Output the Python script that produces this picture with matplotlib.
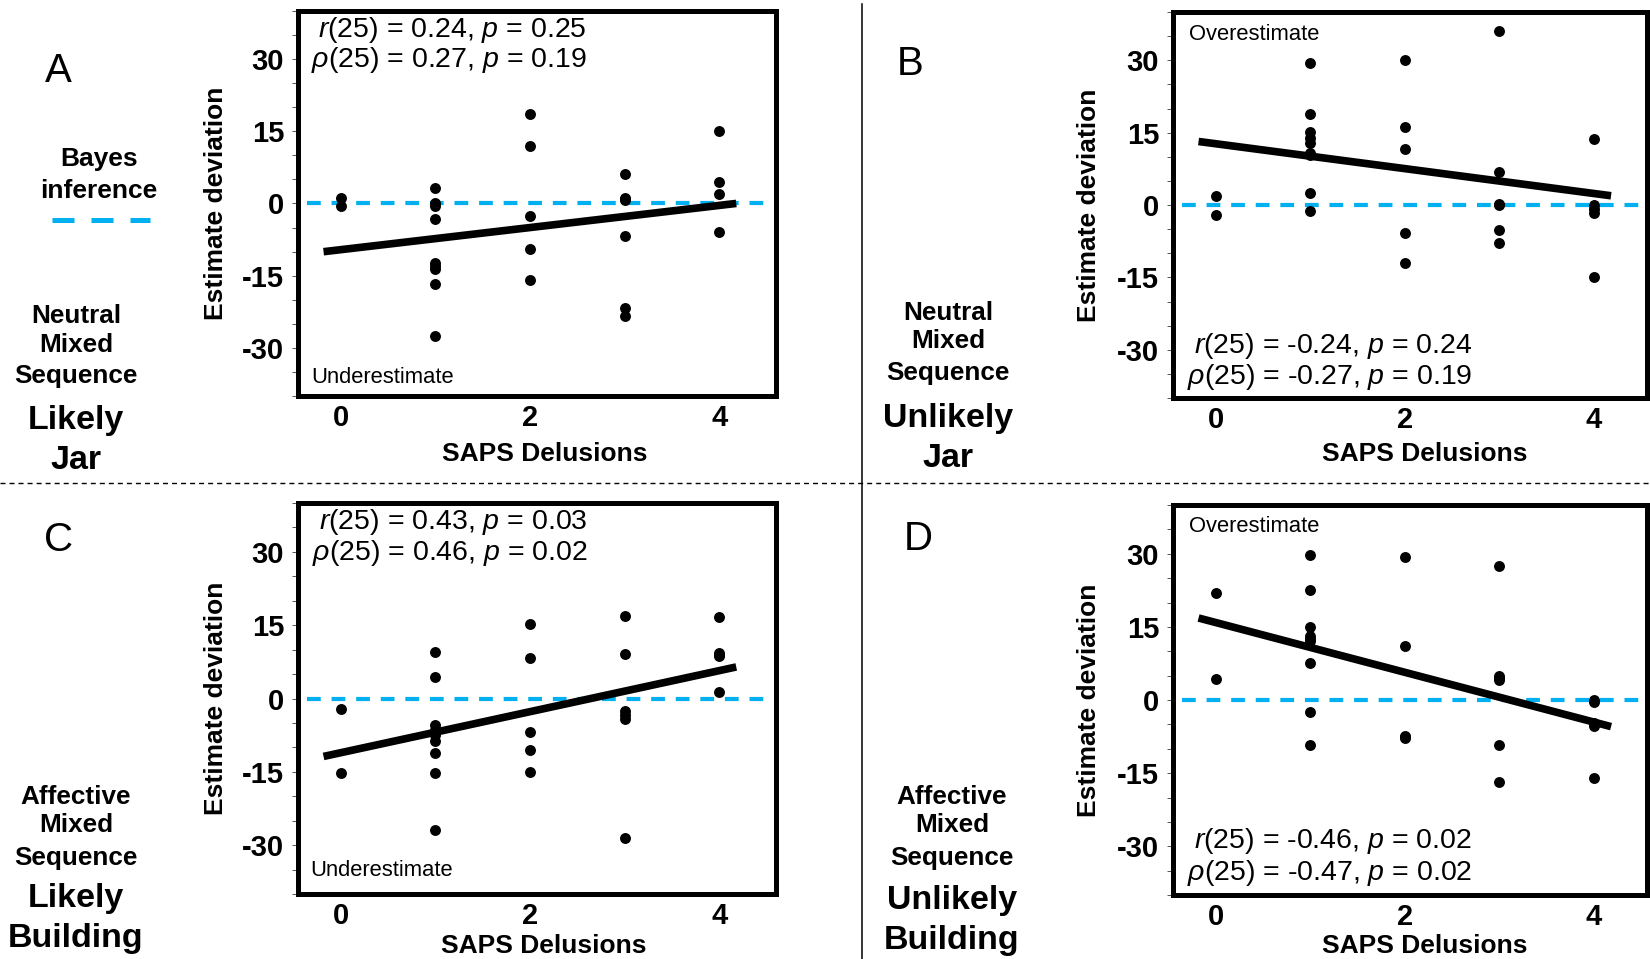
import matplotlib.pyplot as plt
from matplotlib.lines import Line2D

plt.rcParams['font.family'] = ['Liberation Sans', 'DejaVu Sans']
plt.rcParams['mathtext.fontset'] = 'custom'
plt.rcParams['mathtext.rm'] = 'Liberation Sans'
plt.rcParams['mathtext.it'] = 'Liberation Sans:italic'

W, H = 1650, 959
BLUE = '#00b0f0'

# SAPS delusion score (x) against estimate deviation (y), one list pair per panel
a_x = [0, 0, 1, 1, 1, 1, 1, 1, 1, 1, 1, 2, 2, 2, 2, 2, 3, 3, 3, 3, 3, 3, 3, 4, 4, 4, 4]
a_y = [1.1, -0.5, 3.2, 0, -0.6, -3.3, -12.3, -13, -13.6, -16.8, -27.5,
       18.5, 12, -2.6, -9.5, -16, 6.1, 1.2, 0.8, 1.0, -6.8, -21.7, -23.3,
       15.1, 4.4, 1.9, -5.9]

b_x = [0, 0, 1, 1, 1, 1, 1, 1, 1, 1, 1, 2, 2, 2, 2, 2, 3, 3, 3, 3, 3, 3, 4, 4, 4, 4, 4]
b_y = [1.9, -2.1, 29.5, 18.8, 15.1, 13.9, 12.8, 10.8, 10.3, 2.4, -1.2,
       30, 16.1, 11.6, -5.9, -12, 36.1, 6.9, 0.3, 0, -5.2, -7.8,
       13.7, 0, -0.8, -1.7, -14.9]

c_x = [0, 0, 1, 1, 1, 1, 1, 1, 1, 1, 1, 2, 2, 2, 2, 2, 3, 3, 3, 3, 3, 3, 4, 4, 4, 4, 4]
c_y = [-2.1, -15.3, 9.5, 4.5, -5.5, -6.5, -7.5, -8.6, -11.2, -15.3, -27,
       15.2, 8.2, -6.9, -10.5, -15, 16.8, 9.1, -2.6, -3.4, -4.2, -28.5,
       16.6, 9.4, 9.0, 8.6, 1.3]

d_x = [0, 0, 1, 1, 1, 1, 1, 1, 1, 1, 1, 2, 2, 2, 2, 2, 3, 3, 3, 3, 3, 3, 4, 4, 4, 4, 4]
d_y = [21.9, 4.3, 29.7, 22.6, 15, 13.2, 12.6, 12.1, 7.6, -2.4, -9.3,
       29.3, 11, -7.4, -7.6, -7.8, 27.4, 5, 4.5, 4.1, -9.3, -16.8,
       0, -0.5, -4.8, -5.4, -16.1]

# regression lines: (intercept, slope)
a_fit = (-9.6, 2.3)
b_fit = (12.7, -2.58)
c_fit = (-11.1, 4.2)
d_fit = (15.9, -5.11)
fit_x = [-0.18, 4.18]

a_stats = [r'$\mathit{r}$(25) = 0.24, $\mathit{p}$ = 0.25', r'$\rho$(25) = 0.27, $\mathit{p}$ = 0.19']
b_stats = [r'$\mathit{r}$(25) = -0.24, $\mathit{p}$ = 0.24', r'$\rho$(25) = -0.27, $\mathit{p}$ = 0.19']
c_stats = [r'$\mathit{r}$(25) = 0.43, $\mathit{p}$ = 0.03', r'$\rho$(25) = 0.46, $\mathit{p}$ = 0.02']
d_stats = [r'$\mathit{r}$(25) = -0.46, $\mathit{p}$ = 0.02', r'$\rho$(25) = -0.47, $\mathit{p}$ = 0.02']

yticks = [-30, -15, 0, 15, 30]
ytick_labels = ['-30', '-15', '0', '15', '30']
xticks = [0, 2, 4]
xtick_labels = ['0', '2', '4']


def fx(px):
    return px / W


def fy(py):
    return 1 - py / H


fig = plt.figure(figsize=(W / 100, H / 100), dpi=100)

panels = [
    # box (left, top, right, bottom) in px, x range, data, fit, stats, stats px, note, note px
    dict(box=(298, 11, 776, 396), xr=4.6, x=a_x, y=a_y, fit=a_fit, stats=a_stats,
         stats_xy=(587, 30, 60), note='Underestimate', note_xy=(311, 377), ylab_x=216),
    dict(box=(1173, 12, 1647, 398), xr=4.56, x=b_x, y=b_y, fit=b_fit, stats=b_stats,
         stats_xy=(1472, 346, 377), note='Overestimate', note_xy=(1189, 34), ylab_x=1089),
    dict(box=(298, 503, 776, 894), xr=4.6, x=c_x, y=c_y, fit=c_fit, stats=c_stats,
         stats_xy=(588, 522, 553), note='Underestimate', note_xy=(310, 871), ylab_x=216),
    dict(box=(1173, 505, 1647, 895), xr=4.56, x=d_x, y=d_y, fit=d_fit, stats=d_stats,
         stats_xy=(1472, 841, 873), note='Overestimate', note_xy=(1189, 527), ylab_x=1089),
]

for p in panels:
    l, t, r, b = p['box']
    ax = fig.add_axes([fx(l), fy(b), (r - l) / W, (b - t) / H])
    ax.set_xlim(-0.45, p['xr'])
    ax.set_ylim(-40, 40)
    for s in ax.spines.values():
        s.set_linewidth(3.6)
        s.set_color('black')

    ax.hlines(0, -0.35, p['xr'], colors=BLUE, linewidth=3, linestyles=(0, (3.3, 2.6)), zorder=1)
    icpt, slope = p['fit']
    ax.plot(fit_x, [icpt + slope * v for v in fit_x], color='black', linewidth=5.5,
            solid_capstyle='butt', zorder=2)
    ax.scatter(p['x'], p['y'], s=62, color='black', linewidths=0, zorder=3)

    ax.set_yticks(yticks, labels=ytick_labels)
    ax.set_yticks(range(-40, 41, 5), minor=True)
    ax.set_xticks(xticks, labels=xtick_labels)
    ax.tick_params(axis='y', which='both', direction='out', length=4.5, width=0.7,
                   color='#555555', pad=5.5, labelsize=21)
    ax.tick_params(axis='x', length=0, pad=6, labelsize=21)
    for lab in ax.get_xticklabels() + ax.get_yticklabels():
        lab.set_fontweight('bold')

    sx, sy1, sy2 = p['stats_xy']
    fig.text(fx(sx), fy(sy1), p['stats'][0], ha='right', va='center', fontsize=20.5)
    fig.text(fx(sx), fy(sy2), p['stats'][1], ha='right', va='center', fontsize=20.5)
    fig.text(fx(p['note_xy'][0]), fy(p['note_xy'][1]), p['note'], ha='left', va='center',
             fontsize=15.8)

    fig.text(fx(p['ylab_x']), fy((t + b) / 2), 'Estimate deviation', rotation=90,
             ha='center', va='center', fontsize=19, fontweight='bold')

# x-axis titles
for cx, cy in [(545, 454), (1425, 454), (544, 946), (1425, 946)]:
    fig.text(fx(cx), fy(cy), 'SAPS Delusions', ha='center', va='center',
             fontsize=19, fontweight='bold')

# panel letters
for letter, cx, cy in [('A', 58, 71), ('B', 910, 64), ('C', 59, 540), ('D', 918, 539)]:
    fig.text(fx(cx), fy(cy), letter, ha='center', va='center', fontsize=29)

# condition names beside each panel
side_labels = [
    (76, ['Neutral', 'Mixed', 'Sequence'], [316, 345, 376], ['Likely', 'Jar'], [420, 460]),
    (948, ['Neutral', 'Mixed', 'Sequence'], [313, 341, 373], ['Unlikely', 'Jar'], [418, 458]),
    (76, ['Affective', 'Mixed', 'Sequence'], [797, 825, 858], ['Likely', 'Building'], [898, 938]),
    (952, ['Affective', 'Mixed', 'Sequence'], [797, 825, 858], ['Unlikely', 'Building'], [900, 940]),
]
for cx, small, small_y, big, big_y in side_labels:
    for txt, yy in zip(small, small_y):
        fig.text(fx(cx), fy(yy), txt, ha='center', va='center', fontsize=18.8, fontweight='bold')
    for txt, yy in zip(big, big_y):
        fig.text(fx(cx), fy(yy), txt, ha='center', va='center', fontsize=24.5, fontweight='bold')

# legend for the Bayes reference line
fig.text(fx(99), fy(159), 'Bayes', ha='center', va='center', fontsize=19, fontweight='bold')
fig.text(fx(99), fy(191), 'inference', ha='center', va='center', fontsize=19, fontweight='bold')
fig.add_artist(Line2D([fx(52), fx(150)], [fy(220), fy(220)], transform=fig.transFigure,
                      color=BLUE, linewidth=3.6, linestyle=(0, (4.4, 3.4))))

# panel separators
fig.add_artist(Line2D([fx(862), fx(862)], [fy(4), fy(959)], transform=fig.transFigure,
                      color='black', linewidth=1.1))
fig.add_artist(Line2D([0, 1], [fy(483), fy(483)], transform=fig.transFigure,
                      color='black', linewidth=1.0, linestyle=(0, (3.6, 2.9))))

fig.savefig('out.png', dpi=100)
